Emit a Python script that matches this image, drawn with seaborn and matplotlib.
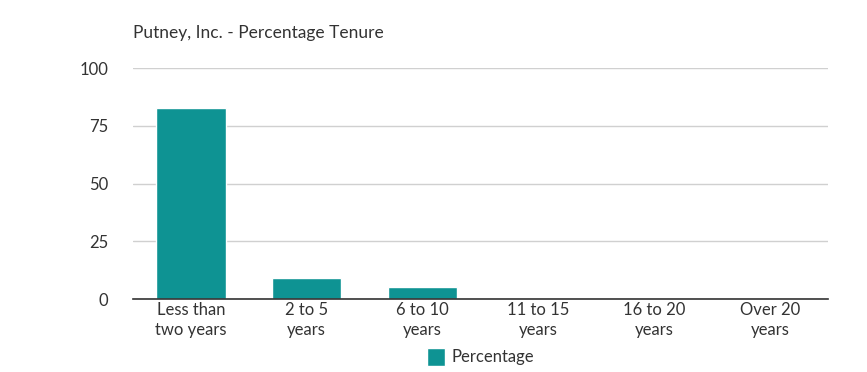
import matplotlib
matplotlib.use("Agg")
import matplotlib.pyplot as plt
import pandas as pd
import seaborn as sns

CATEGORIES = [
    "Less than\ntwo years",
    "2 to 5\nyears",
    "6 to 10\nyears",
    "11 to 15\nyears",
    "16 to 20\nyears",
    "Over 20\nyears",
]
PERCENTAGE = [82.7, 9.2, 5.3, 0, 0, 0]
Y_TICKS = [0, 25, 50, 75, 100]

BAR_COLOR = "#0E9393"
TEXT_COLOR = "#333333"

sns.set_theme(style="white")
plt.rcParams["font.family"] = ["Lato", "DejaVu Sans"]

df = pd.DataFrame({"tenure": CATEGORIES, "Percentage": PERCENTAGE})

fig = plt.figure(figsize=(8.67, 3.72), dpi=100)
ax = fig.add_axes([0.1534, 0.196, 0.8016, 0.621])

sns.barplot(data=df, x="tenure", y="Percentage", color=BAR_COLOR,
            width=0.6, ax=ax, label="Percentage", saturation=1)

ax.set_ylim(0, 100)
ax.set_yticks(Y_TICKS)
ax.yaxis.grid(True, color="#D0D0D0", linewidth=1)
ax.set_axisbelow(True)
for side in ["top", "right", "left"]:
    ax.spines[side].set_visible(False)
ax.spines["bottom"].set_color("#333333")
ax.spines["bottom"].set_linewidth(1.2)
ax.tick_params(axis="both", length=0, labelsize=12, colors=TEXT_COLOR)
ax.tick_params(axis="y", pad=18)
ax.tick_params(axis="x", pad=2)
for lbl in ax.get_xticklabels():
    lbl.set_linespacing(1.35)
ax.set_xlabel("")
ax.set_ylabel("")

fig.text(0.1534, 0.912, "Putney, Inc. - Percentage Tenure", fontsize=12.5,
         color=TEXT_COLOR, ha="left", va="center")

ax.legend(loc="center", bbox_to_anchor=(0.5, -0.25), frameon=False,
          fontsize=12, handlelength=1.1, handleheight=1.3, handletextpad=0.4,
          labelcolor=TEXT_COLOR)

fig.savefig("out.png", dpi=100)
